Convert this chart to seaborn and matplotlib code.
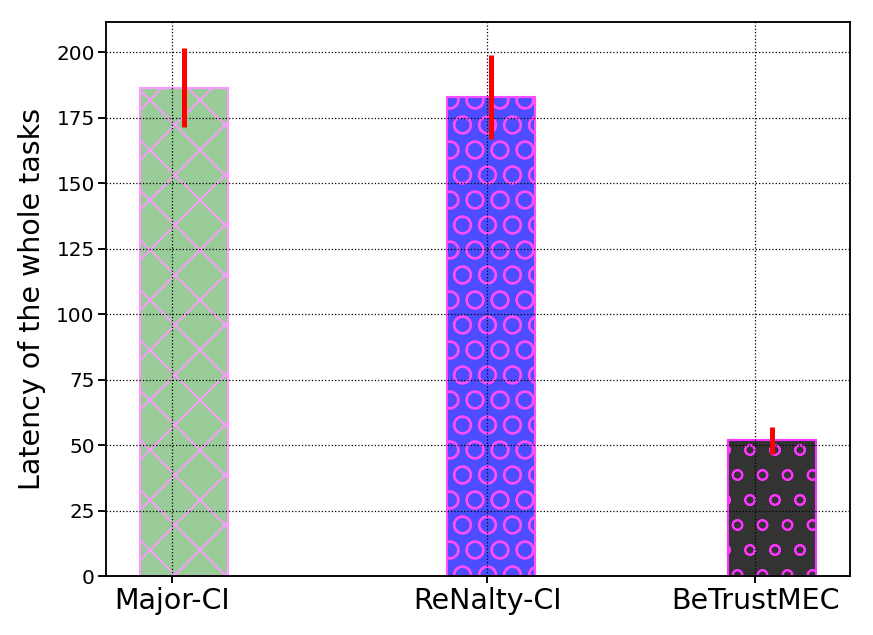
import matplotlib
matplotlib.use("Agg")
import matplotlib.pyplot as plt
import matplotlib.colors as mcolors
import numpy as np
import seaborn as sns
import pandas as pd

# ---- data ----
methods = ["Major-CI", "ReNalty-CI", "BeTrustMEC"]
latency = [186.5, 183.0, 51.8]
latency_err = [15.0, 16.0, 5.1]

# ---- layout / style (bars are not evenly spaced in the original) ----
bar_pos = [0.0, 1.0, 1.915]
tick_pos = [-0.038, 0.988, 1.860]
bar_colors = ["green", "blue", "black"]
bar_alpha = [0.4, 0.7, 0.8]
bar_hatch = ["xx", "OO", "oo"]
edge_color = "magenta"


def over_white(c, a):
    rgb = np.array(mcolors.to_rgb(c))
    return tuple(a * rgb + (1 - a) * np.ones(3))


DPI = 300
sns.set_theme(style="ticks")
plt.rcParams["font.family"] = ["DejaVu Sans"]
plt.rcParams["hatch.linewidth"] = 0.45
plt.rcParams["axes.axisbelow"] = "line"
plt.rcParams["text.color"] = "black"
plt.rcParams["axes.labelcolor"] = "black"
plt.rcParams["xtick.color"] = "black"
plt.rcParams["ytick.color"] = "black"

fig = plt.figure(figsize=(873 / DPI, 635 / DPI), dpi=DPI)
ax = fig.add_axes([106 / 873, 1 - 576 / 635, (850 - 106) / 873, (576 - 21.7) / 635])

face = [over_white(c, a) for c, a in zip(bar_colors, bar_alpha)]
edges = [over_white(edge_color, a) for a in bar_alpha]

df = pd.DataFrame({"pos": bar_pos, "method": methods, "latency": latency})
sns.barplot(data=df, x="pos", y="latency", hue="method", native_scale=True,
            palette=dict(zip(methods, face)), saturation=1, dodge=False,
            width=0.2866 / 0.915, errorbar=None, legend=False, ax=ax,
            linewidth=0.5)

patches = sorted(ax.patches, key=lambda p: p.get_x())
for p, fc, ec, h in zip(patches, face, edges, bar_hatch):
    p.set_facecolor(fc)
    p.set_edgecolor(ec)
    p.set_hatch(h)
    if hasattr(p, "set_hatchcolor"):
        p.set_hatchcolor(ec)
    if hasattr(p, "set_hatch_linewidth"):
        p.set_hatch_linewidth(0.45)

ax.errorbar(bar_pos, latency, yerr=latency_err, fmt="none", ecolor="red",
            elinewidth=1.2, capsize=0)

ax.set_xlim(-0.254, 2.169)
ax.set_ylim(0, 211.7)
ax.set_xticks(tick_pos)
ax.set_xticklabels(methods, fontsize=6.85)
ax.set_yticks(range(0, 201, 25))
ax.tick_params(axis="y", labelsize=4.8, length=1.9, width=0.45, pad=0.8,
               direction="out", colors="black")
ax.tick_params(axis="x", length=1.7, width=0.45, pad=1.0, direction="out",
               colors="black")
ax.set_xlabel("")
ax.set_ylabel("Latency of the whole tasks", fontsize=6.85, labelpad=2.5,
              color="black")

for s in ax.spines.values():
    s.set_visible(True)
    s.set_color("black")
    s.set_linewidth(0.45)

ax.grid(True, color="black", linestyle=":", linewidth=0.3)

fig.savefig("out.png", dpi=DPI)
